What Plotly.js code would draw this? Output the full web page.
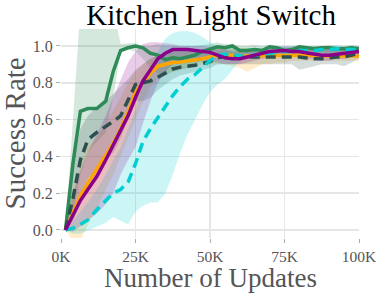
<!DOCTYPE html>
<html>
<head>
<meta charset="utf-8">
<script src="https://cdn.plot.ly/plotly-3.0.1.min.js"></script>
<style>html,body{margin:0;padding:0;background:#fff;}#chart{width:379px;height:294px;}</style>
</head>
<body>
<div id="chart"></div>
<script>
// Number of updates (thousands)
const updatesK = [1.5, 4, 6.5, 9, 12, 15, 17.5, 20, 22.5, 25, 27.5, 30, 32.5, 35, 37.5, 40, 42.5, 45, 47.5, 50, 52.5, 55, 57.5, 60, 62.5, 65, 67.5, 70, 72.5, 75, 77.5, 80, 82.5, 85, 87.5, 90, 92.5, 95, 97.5, 100];

const greenMean = [0, 0.36, 0.645, 0.66, 0.66, 0.70, 0.86, 0.975, 0.99, 1.0, 0.99, 0.96, 0.95, 0.925, 0.935, 0.93, 0.94, 0.95, 0.97, 0.985, 0.995, 0.99, 1.0, 0.975, 0.975, 0.98, 0.975, 0.995, 0.99, 0.975, 0.98, 0.995, 0.99, 0.985, 0.99, 0.99, 0.985, 0.985, 0.99, 0.985];
const greenLow  = [0, 0.08, 0.3, 0.42, 0.48, 0.53, 0.72, 0.97, 0.98, 0.97, 0.93, 0.88, 0.85, 0.84, 0.86, 0.87, 0.88, 0.9, 0.92, 0.95, 0.96, 0.96, 0.95, 0.95, 0.95, 0.955, 0.955, 0.96, 0.96, 0.96, 0.96, 0.96, 0.965, 0.965, 0.965, 0.965, 0.965, 0.965, 0.965, 0.965];
const greenHigh = [0, 0.6, 1.2, 1.2, 1.2, 1.2, 1.2, 1.01, 1.015, 1.015, 1.0, 1.0, 1.01, 1.0, 1.0, 1.0, 1.0, 1.0, 1.005, 1.01, 1.02, 1.01, 1.01, 1.0, 1.0, 1.005, 1.0, 1.005, 1.0, 1.0, 1.0, 1.005, 1.0, 1.0, 1.0, 1.005, 1.0, 1.0, 1.005, 1.0];

const orangeMean = [0, 0.09, 0.185, 0.255, 0.33, 0.41, 0.47, 0.55, 0.64, 0.75, 0.80, 0.85, 0.89, 0.90, 0.91, 0.912, 0.918, 0.923, 0.93, 0.94, 0.95, 0.95, 0.95, 0.945, 0.945, 0.945, 0.945, 0.945, 0.948, 0.95, 0.95, 0.95, 0.95, 0.948, 0.945, 0.945, 0.945, 0.945, 0.945, 0.945];
const orangeLow  = [0, -0.06, -0.06, 0.03, 0.12, 0.22, 0.3, 0.4, 0.5, 0.6, 0.7, 0.78, 0.82, 0.85, 0.86, 0.87, 0.88, 0.89, 0.9, 0.9, 0.9, 0.9, 0.89, 0.88, 0.86, 0.88, 0.9, 0.9, 0.91, 0.91, 0.92, 0.92, 0.92, 0.92, 0.92, 0.92, 0.92, 0.92, 0.92, 0.92];
const orangeHigh = [0, 0.22, 0.35, 0.45, 0.5, 0.57, 0.65, 0.72, 0.8, 0.86, 0.9, 0.93, 0.95, 0.96, 0.97, 0.97, 0.975, 0.98, 0.98, 0.985, 0.99, 0.99, 0.99, 0.99, 0.99, 0.985, 0.98, 0.98, 0.98, 0.98, 0.98, 0.98, 0.98, 0.98, 0.98, 0.98, 0.98, 0.98, 0.98, 0.98];

const slateMean = [0, 0.17, 0.38, 0.49, 0.53, 0.56, 0.59, 0.62, 0.70, 0.79, 0.80, 0.81, 0.83, 0.85, 0.875, 0.885, 0.89, 0.895, 0.905, 0.915, 0.935, 0.945, 0.945, 0.94, 0.94, 0.94, 0.94, 0.94, 0.94, 0.94, 0.94, 0.94, 0.935, 0.93, 0.93, 0.935, 0.94, 0.94, 0.95, 0.96];
const slateLow  = [0, 0.05, 0.15, 0.28, 0.33, 0.38, 0.42, 0.5, 0.6, 0.7, 0.7, 0.72, 0.76, 0.79, 0.82, 0.84, 0.85, 0.86, 0.87, 0.88, 0.9, 0.9, 0.9, 0.9, 0.9, 0.9, 0.9, 0.9, 0.9, 0.9, 0.9, 0.87, 0.88, 0.89, 0.9, 0.9, 0.9, 0.89, 0.91, 0.93];
const slateHigh = [0, 0.35, 0.55, 0.62, 0.67, 0.7, 0.74, 0.78, 0.82, 0.87, 0.9, 0.93, 0.95, 0.96, 0.97, 0.97, 0.97, 0.97, 0.98, 0.98, 0.98, 0.98, 0.98, 0.98, 0.98, 0.98, 0.98, 0.98, 0.98, 0.98, 0.99, 0.99, 0.99, 0.99, 0.99, 0.99, 0.99, 0.99, 0.99, 0.99];

const cyanMean = [0, 0.01, 0.03, 0.055, 0.11, 0.16, 0.20, 0.22, 0.26, 0.36, 0.48, 0.55, 0.61, 0.67, 0.73, 0.78, 0.82, 0.845, 0.885, 0.92, 0.95, 0.955, 0.955, 0.945, 0.945, 0.95, 0.955, 0.96, 0.965, 0.97, 0.97, 0.975, 0.975, 0.975, 0.98, 0.98, 0.985, 0.98, 0.98, 0.98];
const cyanLow  = [0, -0.02, -0.02, 0.0, 0.02, 0.04, 0.07, 0.05, 0.03, 0.1, 0.13, 0.15, 0.15, 0.2, 0.3, 0.42, 0.52, 0.6, 0.68, 0.75, 0.79, 0.82, 0.87, 0.92, 0.93, 0.93, 0.94, 0.94, 0.945, 0.95, 0.95, 0.95, 0.95, 0.95, 0.955, 0.955, 0.955, 0.955, 0.955, 0.955];
const cyanHigh = [0, 0.05, 0.1, 0.15, 0.22, 0.3, 0.38, 0.45, 0.55, 0.65, 0.78, 0.88, 0.97, 1.04, 1.07, 1.08, 1.08, 1.07, 1.05, 1.02, 1.0, 0.99, 0.99, 0.99, 0.99, 0.99, 0.99, 0.99, 1.0, 1.0, 1.0, 1.0, 1.0, 1.0, 1.0, 1.0, 1.005, 1.0, 1.0, 1.0];

const purpleMean = [0, 0.08, 0.16, 0.22, 0.29, 0.38, 0.46, 0.53, 0.62, 0.72, 0.81, 0.87, 0.93, 0.96, 0.98, 0.98, 0.98, 0.975, 0.97, 0.965, 0.95, 0.935, 0.93, 0.93, 0.94, 0.95, 0.96, 0.97, 0.972, 0.975, 0.97, 0.97, 0.962, 0.955, 0.95, 0.95, 0.955, 0.96, 0.965, 0.97];
const purpleLow  = [0, -0.01, 0.02, 0.05, 0.09, 0.14, 0.2, 0.3, 0.38, 0.45, 0.58, 0.7, 0.8, 0.86, 0.9, 0.92, 0.93, 0.93, 0.92, 0.92, 0.91, 0.9, 0.9, 0.9, 0.91, 0.92, 0.93, 0.94, 0.94, 0.94, 0.94, 0.94, 0.93, 0.93, 0.92, 0.92, 0.93, 0.93, 0.94, 0.94];
const purpleHigh = [0, 0.2, 0.32, 0.42, 0.52, 0.62, 0.72, 0.82, 0.91, 0.97, 1.01, 1.02, 1.02, 1.015, 1.01, 1.0, 1.0, 1.0, 1.0, 0.995, 0.99, 0.98, 0.97, 0.97, 0.975, 0.98, 0.985, 0.99, 0.995, 0.995, 0.995, 0.995, 0.99, 0.985, 0.98, 0.98, 0.985, 0.99, 0.99, 0.995];

const xTickVals = [0, 25000, 50000, 75000, 100000];
const xTickText = ['0K', '25K', '50K', '75K', '100K'];
const yTickVals = [0, 0.2, 0.4, 0.6, 0.8, 1.0];

const updates = updatesK.map(v => v * 1000);

function band(low, high, color) {
  return {
    x: updates.concat(updates.slice().reverse()),
    y: high.concat(low.slice().reverse()),
    type: 'scatter', mode: 'lines', fill: 'toself',
    fillcolor: color, line: {width: 0, color: 'rgba(0,0,0,0)'},
    hoverinfo: 'skip', showlegend: false
  };
}
function line(mean, color, dash, width) {
  return {
    x: updates, y: mean, type: 'scatter', mode: 'lines',
    line: {color: color, width: width, dash: dash},
    showlegend: false
  };
}

const traces = [
  band(greenLow, greenHigh, 'rgba(46,139,87,0.2)'),
  band(orangeLow, orangeHigh, 'rgba(255,165,0,0.2)'),
  band(slateLow, slateHigh, 'rgba(47,79,79,0.2)'),
  band(cyanLow, cyanHigh, 'rgba(0,206,209,0.2)'),
  band(purpleLow, purpleHigh, 'rgba(139,0,139,0.2)'),
  line(greenMean, '#2e8b57', 'solid', 3.5),
  line(orangeMean, '#ffa500', 'solid', 3.5),
  line(slateMean, '#2f4f4f', '10px,6px', 3.5),
  line(cyanMean, '#00ced1', '10px,6px', 3.5),
  line(purpleMean, '#8b008b', 'solid', 3.5)
];

const serif = '"Liberation Serif", "Times New Roman", serif';

const layout = {
  width: 379, height: 294,
  margin: {l: 61, r: 20, t: 29, b: 56},
  paper_bgcolor: '#fff', plot_bgcolor: '#fff',
  font: {family: serif, color: '#555'},
  title: {text: 'Kitchen Light Switch', font: {size: 29, color: '#000'}, x: 0.557, xanchor: 'center', y: 0.985, yanchor: 'top'},
  xaxis: {
    range: [0, 100000], tickvals: xTickVals, ticktext: xTickText,
    showgrid: true, gridcolor: '#e6e6e6', gridwidth: 1.5, zeroline: false,
    ticks: 'outside', ticklen: 4, tickcolor: '#aaa', tickfont: {size: 15.5, color: '#555'},
    showline: false
  },
  yaxis: {
    range: [-0.0435, 1.092], tickvals: yTickVals, tickformat: '.1f',
    showgrid: true, gridcolor: '#e6e6e6', gridwidth: 1.5, zeroline: false,
    ticks: 'outside', ticklen: 4, tickcolor: '#aaa', tickfont: {size: 16, color: '#555'},
    showline: false
  },
  annotations: [
    {text: 'Number of Updates', xref: 'paper', yref: 'paper', x: 0.5, y: -0.268,
     xanchor: 'center', yanchor: 'bottom', showarrow: false, borderpad: 0,
     font: {family: serif, size: 27, color: '#555'}},
    {text: 'Success Rate', xref: 'paper', yref: 'paper', x: -0.2047, y: 0.5, xshift: -2,
     xanchor: 'left', yanchor: 'middle', textangle: -90, showarrow: false, borderpad: 0,
     font: {family: serif, size: 29, color: '#555'}}
  ]
};

Plotly.newPlot('chart', traces, layout, {displayModeBar: false, staticPlot: true});
</script>
</body>
</html>
